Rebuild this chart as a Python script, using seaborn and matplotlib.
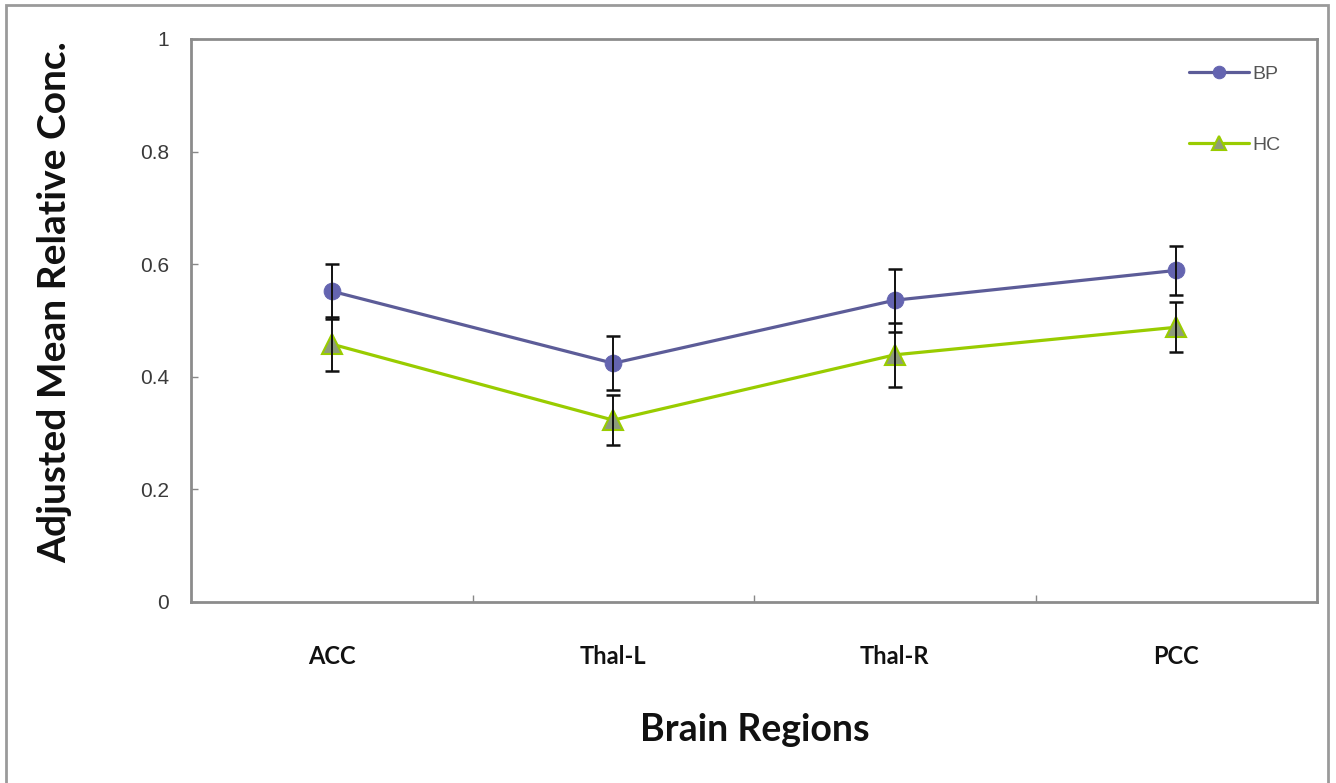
import matplotlib
matplotlib.use("Agg")
import matplotlib.pyplot as plt
from matplotlib.patches import Rectangle
import numpy as np
import pandas as pd
import seaborn as sns

# Regions and group means with their error margins
regions = ["ACC", "Thal-L", "Thal-R", "PCC"]
bp_mean = [0.552, 0.424, 0.536, 0.589]
bp_err = [0.049, 0.048, 0.056, 0.044]
hc_mean = [0.458, 0.323, 0.439, 0.488]
hc_err = [0.048, 0.045, 0.057, 0.044]
y_ticks = [0, 0.2, 0.4, 0.6, 0.8, 1]
y_tick_labels = ["0", "0.2", "0.4", "0.6", "0.8", "1"]

sns.set_theme(style="white")
plt.rcParams["font.family"] = ["DejaVu Sans"]

fig = plt.figure(figsize=(13.36, 7.83), dpi=100)
ax = fig.add_axes([0.143, 0.2312, 0.8428, 0.719])

pos = np.arange(len(regions))
df = pd.DataFrame({
    "pos": np.concatenate([pos, pos]),
    "value": bp_mean + hc_mean,
    "group": ["BP"] * len(regions) + ["HC"] * len(regions),
})

bp_line = "#5C5C98"
bp_marker = "#6464B0"
hc_line = "#99CC00"
hc_marker = "#8E9C7A"

# error bars
for mean, err in ((bp_mean, bp_err), (hc_mean, hc_err)):
    ax.errorbar(pos, mean, yerr=err, fmt="none", ecolor="#111111",
                elinewidth=1.4, capsize=5, capthick=1.8, zorder=4)

sns.lineplot(data=df[df.group == "BP"], x="pos", y="value", ax=ax,
             color=bp_line, lw=2.3, marker="o", markersize=12,
             markerfacecolor=bp_marker, markeredgecolor=bp_marker,
             label="BP", zorder=3)
sns.lineplot(data=df[df.group == "HC"], x="pos", y="value", ax=ax,
             color=hc_line, lw=2.3, marker="^", markersize=14,
             markerfacecolor=hc_marker, markeredgecolor=hc_line,
             markeredgewidth=1.5, label="HC", zorder=3)

ax.set_xlim(-0.5, len(regions) - 0.5)
ax.set_ylim(0, 1)

# category labels without marks, small inner marks between categories
ax.set_xticks(pos)
ax.set_xticklabels(regions, fontfamily="Lato", fontweight="bold",
                   fontsize=17, color="#111111")
ax.tick_params(axis="x", which="major", length=0, pad=31)
ax.set_xticks(pos[:-1] + 0.5, minor=True)
ax.tick_params(axis="x", which="minor", direction="in", length=5,
               width=1, color="#888888", bottom=True)

ax.set_yticks(y_ticks)
ax.set_yticklabels(y_tick_labels, fontfamily="Liberation Sans",
                   fontsize=15, color="#3A3A3A")
ax.tick_params(axis="y", direction="in", length=5, width=1,
               color="#888888", left=True, pad=16)

for sp in ax.spines.values():
    sp.set_color("#8C8C8C")
    sp.set_linewidth(2)

ax.set_xlabel("")
ax.set_ylabel("")
fig.text(755 / 1336, 1 - 730 / 783, "Brain Regions", ha="center",
         va="center", fontfamily="Lato", fontweight="bold", fontsize=27,
         color="#111111")
fig.text(55 / 1336, 1 - 302 / 783, "Adjusted Mean Relative Conc.",
         ha="center", va="center", rotation=90, fontfamily="Lato",
         fontweight="bold", fontsize=28, color="#111111")

leg = ax.legend(loc="upper right", bbox_to_anchor=(0.983, 0.985),
                frameon=False, fontsize=14, handlelength=3.1,
                labelspacing=2.75, handletextpad=0.15, markerscale=0.75)
for t in leg.get_texts():
    t.set_color("#555555")
    t.set_fontfamily("Liberation Sans")

# outer chart frame
fig.patches.append(Rectangle((6 / 1336, -0.01), 1322 / 1336, 1 - 5 / 783 + 0.01,
                             transform=fig.transFigure, fill=False,
                             edgecolor="#9A9A9A", lw=2))

fig.savefig("out.png", dpi=100)
